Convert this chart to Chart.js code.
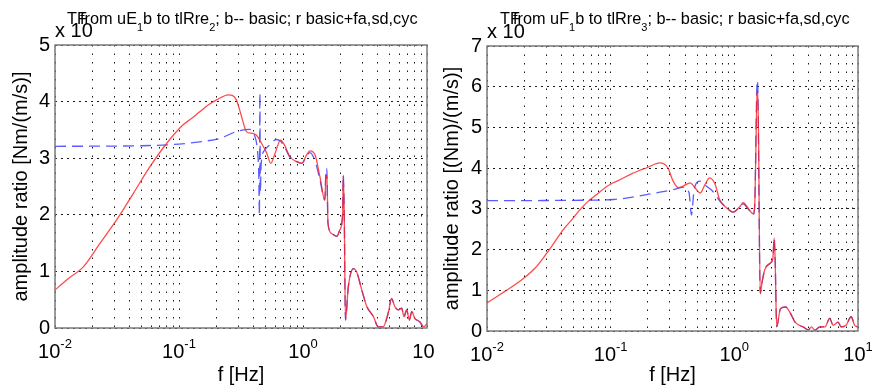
<!DOCTYPE html>
<html>
<head>
<meta charset="utf-8">
<script src="https://cdn.jsdelivr.net/npm/chart.js@4.4.0/dist/chart.umd.min.js"></script>
<style>
html, body { margin: 0; padding: 0; background: #fff; }
#wrap { position: relative; width: 872px; height: 390px; overflow: hidden; }
canvas { position: absolute; top: 0; }
</style>
</head>
<body>
<div id="wrap">
  <canvas id="left" width="434" height="390" style="left:0"></canvas>
  <canvas id="right" width="436" height="390" style="left:436px"></canvas>
</div>
<script>
// ---- data ----
const xDecadeExp = [-2, -1, 0, 1];
const xMinorMult = [1, 2, 3, 4, 5, 6, 7, 8, 9];

// left panel: uE1 -> tlRre2
const redLeftF = [0.01, 0.0124, 0.0169, 0.0231, 0.0314, 0.0367, 0.0429, 0.0583, 0.0794, 0.108, 0.126, 0.147, 0.172, 0.201, 0.25, 0.29, 0.32, 0.35, 0.386, 0.42, 0.464, 0.51, 0.55, 0.59, 0.66, 0.71, 0.78, 0.89, 0.98, 1.07, 1.14, 1.25, 1.37, 1.50, 1.53, 1.56, 1.59, 1.70, 1.88, 1.98, 2.09, 2.11, 2.15, 2.20, 2.32, 2.55, 2.71, 2.98, 3.27, 3.70, 4.04, 4.42, 4.86, 5.18, 5.50, 5.87, 6.25, 6.52, 6.86, 7.20, 7.53, 7.98, 8.74, 9.40, 10];
const redLeftV = [0.67, 0.85, 1.08, 1.5, 1.91, 2.14, 2.38, 2.85, 3.26, 3.59, 3.7, 3.82, 3.94, 4.03, 4.12, 4.03, 3.73, 3.47, 3.44, 3.41, 3.26, 3.09, 2.91, 3.06, 3.32, 3.23, 3.03, 2.94, 2.91, 3.06, 3.13, 3.06, 2.67, 2.26, 2.67, 2.70, 1.85, 1.67, 1.62, 1.73, 2.03, 2.70, 2.03, 0.14, 0.73, 1.05, 0.99, 0.67, 0.38, 0.20, 0.02, 0.02, 0.26, 0.52, 0.38, 0.32, 0.35, 0.20, 0.32, 0.14, 0.29, 0.17, 0.11, 0.02, 0.08];
const blueLeftF = [0.01, 0.05, 0.1, 0.147, 0.214, 0.29, 0.37, 0.41, 0.43, 0.44, 0.445, 0.449, 0.453, 0.46, 0.49, 0.53, 0.61, 0.66, 0.71, 0.78, 0.89, 0.98, 1.07, 1.14, 1.25, 1.37, 1.50, 1.53, 1.555, 1.59, 1.70, 1.88, 1.98, 2.09, 2.11, 2.15, 2.20, 2.32, 2.55, 2.71, 2.98, 3.27, 3.70, 4.04, 4.42, 4.86, 5.18, 5.50, 5.87, 6.25, 6.52, 6.86, 7.20, 7.53, 7.98, 8.74, 9.40, 10];
const blueLeftV = [3.21, 3.22, 3.25, 3.29, 3.35, 3.47, 3.51, 3.38, 3.12, 2.7, 2.0, 4.15, 2.4, 2.9, 3.14, 3.22, 3.33, 3.3, 3.2, 3.03, 2.94, 2.91, 3.04, 3.10, 2.95, 2.62, 2.26, 2.78, 2.82, 1.85, 1.67, 1.62, 1.73, 2.03, 2.70, 2.03, 0.14, 0.73, 1.05, 0.99, 0.67, 0.38, 0.20, 0.02, 0.02, 0.26, 0.52, 0.38, 0.32, 0.35, 0.20, 0.32, 0.14, 0.29, 0.17, 0.11, 0.02, 0.08];

// right panel: uF1 -> tlRre3
const redRightF = [0.01, 0.0144, 0.0197, 0.0244, 0.0304, 0.0355, 0.0414, 0.0484, 0.0565, 0.066, 0.0771, 0.09, 0.105, 0.123, 0.143, 0.167, 0.196, 0.25, 0.29, 0.32, 0.354, 0.386, 0.44, 0.48, 0.53, 0.58, 0.63, 0.70, 0.76, 0.87, 0.98, 1.11, 1.18, 1.29, 1.42, 1.46, 1.53, 1.55, 1.62, 1.67, 1.76, 1.94, 2.05, 2.10, 2.14, 2.20, 2.36, 2.6, 2.8, 3.1, 3.6, 3.97, 4.2, 4.5, 4.9, 5.4, 5.9, 6.3, 6.9, 7.3, 8.0, 8.8, 9.4, 10];
const redRightV = [0.69, 1.0, 1.29, 1.54, 1.91, 2.2, 2.49, 2.73, 2.98, 3.19, 3.35, 3.52, 3.64, 3.74, 3.84, 3.93, 4.01, 4.13, 4.01, 3.68, 3.52, 3.56, 3.64, 3.52, 3.39, 3.6, 3.76, 3.6, 3.23, 3.02, 2.92, 3.06, 3.15, 3.02, 2.88, 3.06, 5.86, 5.9, 0.92, 1.17, 1.5, 1.66, 1.79, 2.28, 1.7, 0.10, 0.55, 0.59, 0.47, 0.22, 0.10, 0.03, 0.10, 0.02, 0.10, 0.10, 0.31, 0.14, 0.22, 0.10, 0.14, 0.35, 0.14, 0.10];
const blueRightF = [0.01, 0.05, 0.105, 0.196, 0.25, 0.32, 0.386, 0.43, 0.45, 0.47, 0.48, 0.53, 0.6, 0.66, 0.72, 0.76, 0.87, 0.98, 1.11, 1.18, 1.29, 1.42, 1.46, 1.53, 1.55, 1.62, 1.67, 1.76, 1.94, 2.05, 2.10, 2.14, 2.20, 2.36, 2.6, 2.8, 3.1, 3.6, 3.97, 4.2, 4.5, 4.9, 5.4, 5.9, 6.3, 6.9, 7.3, 8.0, 8.8, 9.4, 10];
const blueRightV = [3.2, 3.21, 3.23, 3.35, 3.41, 3.47, 3.53, 3.4, 2.85, 3.4, 3.55, 3.68, 3.55, 3.45, 3.3, 3.2, 3.02, 2.92, 3.06, 3.12, 3.0, 2.85, 3.06, 6.15, 5.9, 0.92, 1.17, 1.5, 1.66, 1.79, 2.28, 1.7, 0.10, 0.55, 0.59, 0.47, 0.22, 0.10, 0.03, 0.10, 0.02, 0.10, 0.10, 0.31, 0.14, 0.22, 0.10, 0.14, 0.35, 0.14, 0.10];

const FONT = '"Liberation Sans", Arial, Helvetica, sans-serif';

// log grid at 1..9 x 10^n
const xGridTicks = [];
xDecadeExp.forEach(e => {
    xMinorMult.forEach(m => {
        const v = m * Math.pow(10, e);
        if (v <= 10.0001) xGridTicks.push(v);
    });
});

function pts(fs, vs) {
    return fs.map((f, i) => ({ x: f, y: vs[i] }));
}

// matlab-ish extras: box, 10^n labels, "x 10" and overlapping title
const decor = {
    id: 'decor',
    afterDraw(chart, args, opts) {
        const ctx = chart.ctx;
        const a = chart.chartArea;
        const xs = chart.scales.x;
        ctx.save();
        ctx.strokeStyle = '#7a7a7a';
        ctx.lineWidth = 1.5;
        ctx.strokeRect(a.left, a.top, a.right - a.left, a.bottom - a.top);

        ctx.fillStyle = '#000';
        ctx.textBaseline = 'alphabetic';
        ctx.textAlign = 'left';
        xDecadeExp.forEach(e => {
            const px = xs.getPixelForValue(Math.pow(10, e));
            ctx.font = '20px ' + FONT;
            const wb = ctx.measureText('10').width;
            ctx.font = '13px ' + FONT;
            const sup = String(e);
            const ws = ctx.measureText(sup).width;
            const x0 = px - (wb + ws) / 2;
            ctx.font = '20px ' + FONT;
            ctx.fillText('10', x0, a.bottom + 30);
            ctx.font = '13px ' + FONT;
            ctx.fillText(sup, x0 + wb, a.bottom + 20);
        });

        ctx.font = '20px ' + FONT;
        ctx.fillText('x 10', a.left, a.top - 8);

        // title, drawn in pieces so the subscripts sit low
        ctx.font = '16.3px ' + FONT;
        ctx.fillText('TF', opts.tfX, 24);
        let x = opts.fromX;
        opts.parts.forEach(p => {
            if (p.sub) {
                ctx.font = '11px ' + FONT;
                ctx.fillText(p.sub, x, 31);
                x += ctx.measureText(p.sub).width;
            } else {
                ctx.font = '16.3px ' + FONT;
                ctx.fillText(p.t, x, 24);
                x += ctx.measureText(p.t).width;
            }
        });
        ctx.restore();
    }
};

function makeChart(id, cfg) {
    const ctx = document.getElementById(id).getContext('2d');
    return new Chart(ctx, {
        type: 'line',
        data: {
            datasets: [
                {
                    label: 'basic+fa,sd,cyc',
                    data: pts(cfg.redF, cfg.redV),
                    borderColor: 'rgba(255, 30, 30, 0.8)',
                    borderWidth: 1.3,
                    pointRadius: 0,
                    cubicInterpolationMode: 'monotone',
                    fill: false
                },
                {
                    label: 'basic',
                    data: pts(cfg.blueF, cfg.blueV),
                    borderColor: 'rgba(50, 50, 255, 0.8)',
                    borderDash: [11, 6],
                    borderWidth: 1.3,
                    pointRadius: 0,
                    cubicInterpolationMode: 'monotone',
                    fill: false
                }
            ]
        },
        options: {
            responsive: false,
            animation: false,
            layout: { padding: { top: cfg.top, right: cfg.padRight, left: 0, bottom: 0 } },
            plugins: {
                legend: { display: false },
                tooltip: { enabled: false },
                decor: { tfX: cfg.tfX, fromX: cfg.fromX, parts: cfg.parts }
            },
            scales: {
                x: {
                    type: 'logarithmic',
                    min: 0.01,
                    max: 10,
                    afterBuildTicks: s => { s.ticks = xGridTicks.map(v => ({ value: v })); },
                    afterFit: s => { s.height = cfg.xHeight; },
                    ticks: { display: false },
                    grid: { color: 'rgba(0,0,0,0.9)', lineWidth: 1, drawTicks: false },
                    border: { display: false, dash: [1.5, 7] },
                    title: {
                        display: true, text: 'f [Hz]', color: '#000',
                        font: { family: FONT, size: 20 }, padding: { top: 0, bottom: 3 }
                    }
                },
                y: {
                    min: 0,
                    max: cfg.yMax,
                    afterFit: s => { s.width = cfg.yWidth; },
                    ticks: { stepSize: 1, color: '#000', padding: 5, font: { family: FONT, size: 20 } },
                    grid: { color: 'rgba(0,0,0,0.9)', lineWidth: 1, drawTicks: false },
                    border: { display: false, dash: [2, 4] },
                    title: {
                        display: true, text: cfg.yTitle, color: '#000',
                        font: { family: FONT, size: 20 }, padding: { top: cfg.yTitlePad, bottom: 0 }
                    }
                }
            }
        },
        plugins: [decor]
    });
}

makeChart('left', {
    redF: redLeftF, redV: redLeftV, blueF: blueLeftF, blueV: blueLeftV,
    yMax: 5, top: 45, padRight: 7, xHeight: 62, yWidth: 55, yTitlePad: 9,
    yTitle: 'amplitude ratio [Nm/(m/s)]',
    tfX: 67, fromX: 80,
    parts: [{ t: 'from uE' }, { sub: '1' }, { t: 'b to tlRre' }, { sub: '2' }, { t: '; b-- basic; r basic+fa,sd,cyc' }]
});

makeChart('right', {
    redF: redRightF, redV: redRightV, blueF: blueRightF, blueV: blueRightV,
    yMax: 7, top: 46, padRight: 14, xHeight: 59, yWidth: 51, yTitlePad: 4,
    yTitle: 'amplitude ratio [(Nm)/(m/s)]',
    tfX: 64, fromX: 77,
    parts: [{ t: 'from uF' }, { sub: '1' }, { t: 'b to tlRre' }, { sub: '3' }, { t: '; b-- basic; r basic+fa,sd,cyc' }]
});
</script>
</body>
</html>
